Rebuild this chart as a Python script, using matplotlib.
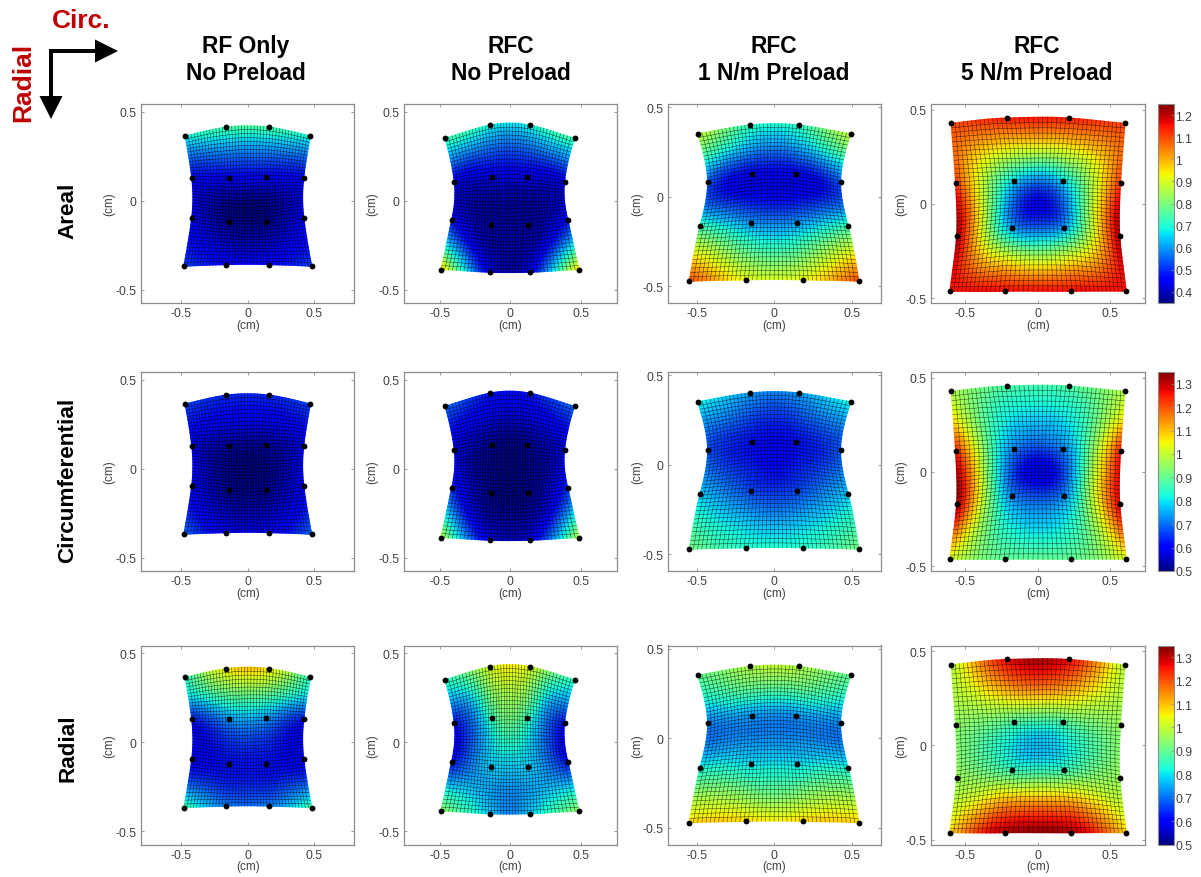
"""Regional strain maps for three stretch measures under four loading protocols."""
import matplotlib
matplotlib.use("Agg")
import matplotlib.pyplot as plt
import matplotlib.tri as mtri
import numpy as np

FIG_W, FIG_H = 1201, 878

COL_TITLES = ["RF Only\nNo Preload", "RFC\nNo Preload", "RFC\n1 N/m Preload", "RFC\n5 N/m Preload"]
ROW_TITLES = ["Areal", "Circumferential", "Radial"]

X_TICKS = [-0.5, 0, 0.5]
Y_TICKS = [-0.5, 0, 0.5]
CBAR_TICKS = [
    [0.4, 0.5, 0.6, 0.7, 0.8, 0.9, 1.0, 1.1, 1.2],
    [0.5, 0.6, 0.7, 0.8, 0.9, 1.0, 1.1, 1.2, 1.3],
    [0.5, 0.6, 0.7, 0.8, 0.9, 1.0, 1.1, 1.2, 1.3],
]
CLIMS = [(0.35, 1.25), (0.5, 1.35), (0.5, 1.35)]

# marker positions (cm), 4 x 4 from the top row down
MARKER_X = [
    [[-0.47, -0.16, 0.16, 0.47], [-0.42, -0.14, 0.14, 0.42], [-0.42, -0.14, 0.14, 0.42], [-0.48, -0.16, 0.16, 0.48]],
    [[-0.463, -0.147, 0.14, 0.456], [-0.397, -0.128, 0.118, 0.385], [-0.416, -0.135, 0.125, 0.409], [-0.494, -0.147, 0.137, 0.49]],
    [[-0.493, -0.157, 0.16, 0.493], [-0.429, -0.14, 0.138, 0.427], [-0.478, -0.149, 0.149, 0.476], [-0.547, -0.185, 0.183, 0.545]],
    [[-0.597, -0.211, 0.215, 0.601], [-0.567, -0.163, 0.172, 0.571], [-0.56, -0.177, 0.181, 0.566], [-0.606, -0.223, 0.227, 0.61]],
]
MARKER_Y = [
    [[0.365, 0.415, 0.415, 0.365], [0.13, 0.13, 0.135, 0.13], [-0.095, -0.12, -0.12, -0.095], [-0.37, -0.36, -0.36, -0.37]],
    [[0.352, 0.426, 0.426, 0.352], [0.106, 0.136, 0.136, 0.106], [-0.11, -0.138, -0.138, -0.11], [-0.388, -0.403, -0.403, -0.388]],
    [[0.352, 0.401, 0.401, 0.352], [0.084, 0.126, 0.126, 0.084], [-0.164, -0.144, -0.144, -0.164], [-0.472, -0.464, -0.464, -0.472]],
    [[0.428, 0.456, 0.456, 0.428], [0.111, 0.122, 0.122, 0.111], [-0.17, -0.129, -0.129, -0.17], [-0.463, -0.463, -0.463, -0.463]],
]

# stretch, 7 x 7 from the top left
AREAL_RF = [
    [.69, .73, .75, .76, .75, .73, .69],
    [.56, .57, .58, .58, .58, .57, .56],
    [.47, .46, .46, .46, .46, .46, .47],
    [.44, .40, .37, .36, .37, .40, .44],
    [.45, .40, .37, .36, .37, .40, .45],
    [.47, .44, .41, .40, .41, .44, .47],
    [.52, .49, .47, .46, .47, .49, .52],
]
AREAL_RFC = [
    [.74, .73, .69, .67, .69, .73, .74],
    [.58, .56, .55, .54, .55, .56, .58],
    [.45, .43, .44, .44, .44, .43, .45],
    [.42, .39, .38, .38, .38, .39, .42],
    [.48, .40, .38, .38, .38, .40, .48],
    [.66, .48, .39, .38, .39, .48, .66],
    [.98, .66, .44, .39, .44, .66, .98],
]
AREAL_1N = [
    [.88, .80, .72, .70, .72, .80, .88],
    [.72, .65, .60, .58, .60, .65, .72],
    [.55, .48, .46, .46, .46, .48, .55],
    [.56, .50, .47, .46, .47, .50, .56],
    [.73, .66, .60, .58, .60, .66, .73],
    [.92, .84, .76, .73, .76, .84, .92],
    [1.10, 1.00, .92, .90, .92, 1.00, 1.10],
]
AREAL_5N = [
    [1.10, 1.12, 1.14, 1.15, 1.14, 1.12, 1.10],
    [1.07, .96, .90, .88, .90, .96, 1.07],
    [1.12, .85, .66, .58, .66, .85, 1.12],
    [1.20, .85, .55, .46, .55, .85, 1.20],
    [1.22, .88, .62, .55, .62, .88, 1.22],
    [1.18, 1.00, .90, .85, .90, 1.00, 1.18],
    [1.15, 1.16, 1.16, 1.16, 1.16, 1.16, 1.15],
]
CIRC_RF = [
    [.66, .65, .64, .64, .64, .65, .66],
    [.62, .60, .59, .59, .59, .60, .62],
    [.59, .55, .53, .52, .53, .55, .59],
    [.60, .54, .51, .50, .51, .54, .60],
    [.60, .55, .52, .51, .52, .55, .60],
    [.63, .58, .55, .54, .55, .58, .63],
    [.70, .63, .59, .58, .59, .63, .70],
]
CIRC_RFC = [
    [.70, .66, .63, .62, .63, .66, .70],
    [.62, .59, .57, .56, .57, .59, .62],
    [.58, .54, .52, .51, .52, .54, .58],
    [.60, .53, .51, .50, .51, .53, .60],
    [.65, .55, .51, .50, .51, .55, .65],
    [.78, .60, .53, .52, .53, .60, .78],
    [1.00, .73, .58, .55, .58, .73, 1.00],
]
CIRC_1N = [
    [.82, .78, .74, .72, .74, .78, .82],
    [.72, .70, .67, .65, .67, .70, .72],
    [.68, .64, .62, .61, .62, .64, .68],
    [.72, .66, .63, .61, .63, .66, .72],
    [.78, .72, .67, .65, .67, .72, .78],
    [.85, .80, .76, .74, .76, .80, .85],
    [.92, .87, .84, .83, .84, .87, .92],
]
CIRC_5N = [
    [.98, .92, .88, .87, .88, .92, .98],
    [1.08, .90, .80, .78, .80, .90, 1.08],
    [1.25, .92, .72, .67, .72, .92, 1.25],
    [1.33, .95, .66, .58, .66, .95, 1.28],
    [1.33, .98, .73, .67, .73, .98, 1.28],
    [1.18, .96, .82, .78, .82, .96, 1.18],
    [1.02, .94, .90, .90, .90, .94, 1.02],
]
RADIAL_RF = [
    [.84, .97, 1.06, 1.10, 1.06, .97, .84],
    [.78, .84, .90, .92, .90, .84, .78],
    [.63, .68, .74, .76, .74, .68, .63],
    [.60, .62, .65, .66, .65, .62, .60],
    [.60, .61, .62, .62, .62, .61, .60],
    [.68, .66, .64, .64, .64, .66, .68],
    [.88, .78, .72, .70, .72, .78, .88],
]
RADIAL_RFC = [
    [.85, .92, 1.02, 1.06, 1.02, .92, .85],
    [.74, .80, .94, .98, .94, .80, .74],
    [.62, .72, .86, .92, .86, .72, .62],
    [.60, .70, .80, .84, .80, .70, .60],
    [.62, .72, .78, .78, .78, .72, .62],
    [.78, .77, .75, .73, .75, .77, .78],
    [.95, .86, .78, .72, .78, .86, .95],
]
RADIAL_1N = [
    [.90, .94, .98, 1.00, .98, .94, .90],
    [.82, .86, .88, .88, .88, .86, .82],
    [.72, .74, .74, .74, .74, .74, .72],
    [.72, .73, .73, .73, .73, .73, .72],
    [.82, .82, .80, .80, .80, .82, .82],
    [.95, .95, .92, .90, .92, .95, .95],
    [1.08, 1.09, 1.08, 1.06, 1.08, 1.09, 1.08],
]
RADIAL_5N = [
    [.98, 1.14, 1.27, 1.32, 1.27, 1.14, .98],
    [.98, 1.04, 1.10, 1.12, 1.10, 1.04, .98],
    [.95, .92, .88, .86, .88, .92, .95],
    [.94, .87, .80, .77, .80, .87, .94],
    [.96, .92, .86, .84, .86, .92, .96],
    [1.00, 1.06, 1.10, 1.10, 1.10, 1.06, 1.00],
    [1.08, 1.22, 1.32, 1.34, 1.32, 1.22, 1.08],
]
FIELDS = [
    [AREAL_RF, AREAL_RFC, AREAL_1N, AREAL_5N],
    [CIRC_RF, CIRC_RFC, CIRC_1N, CIRC_5N],
    [RADIAL_RF, RADIAL_RFC, RADIAL_1N, RADIAL_5N],
]

# layout, in pixels of the final picture
COL_LEFT = [141, 403.5, 667.5, 931]
COL_WIDTH = 213.5
ROW_TOP = [105, 373, 646.5]
ROW_HEIGHT = 199
X_LIMS = [0.8, 0.757, 0.687, 0.736]
Y_LIMS = [(-0.576, 0.545), (-0.576, 0.545), (-0.593, 0.518), (-0.525, 0.53)]
Y_LABEL_X = [109, 372, 637, 901]
TEXT_GRAY = "#404040"
FRAME_GRAY = "#8c8c8c"
RED = "#c00000"
N_CELLS = 40


def px_rect(left, top, width, height):
    return [left / FIG_W, 1 - (top + height) / FIG_H, width / FIG_W, height / FIG_H]


def grid_triangulation(n):
    u, v = np.meshgrid(np.linspace(0, 3, n), np.linspace(0, 3, n))
    return mtri.Triangulation(u.ravel(), v.ravel())


def style_axes(ax):
    for spine in ax.spines.values():
        spine.set_color(FRAME_GRAY)
        spine.set_linewidth(0.9)
    ax.tick_params(direction="in", length=2, width=0.6, color=FRAME_GRAY, top=True, right=True,
                   labelsize=8.7, labelcolor=TEXT_GRAY, pad=3)


def draw_panel(ax, markers_x, markers_y, field, clim):
    """Deformed mesh coloured by stretch, with the 16 tracked markers on top."""
    markers_x, markers_y = np.array(markers_x), np.array(markers_y)
    tri_geom = grid_triangulation(4)
    tri_field = grid_triangulation(7)
    uu, vv = np.meshgrid(np.linspace(0, 3, N_CELLS + 1), np.linspace(0, 3, N_CELLS + 1))
    mesh_x = np.asarray(mtri.CubicTriInterpolator(tri_geom, markers_x.ravel())(uu, vv))
    mesh_y = np.asarray(mtri.CubicTriInterpolator(tri_geom, markers_y.ravel())(uu, vv))
    mesh_c = np.asarray(mtri.CubicTriInterpolator(tri_field, np.array(field).ravel())(uu, vv))
    image = ax.pcolormesh(mesh_x, mesh_y, mesh_c, shading="gouraud", cmap="jet", vmin=clim[0], vmax=clim[1])
    # the outermost mesh lines do not show in the original
    ax.plot(mesh_x[:, 1:-1], mesh_y[:, 1:-1], color="black", lw=0.35, alpha=0.75)
    ax.plot(mesh_x.T[:, 1:-1], mesh_y.T[:, 1:-1], color="black", lw=0.35, alpha=0.75)
    ax.plot(markers_x.ravel(), markers_y.ravel(), "o", color="black", ms=4.2, mew=0)
    return image


plt.rcParams.update({
    "font.family": ["Liberation Sans", "DejaVu Sans"],
    "axes.unicode_minus": False,
})

fig = plt.figure(figsize=(FIG_W / 100, FIG_H / 100), dpi=100)

for r, top in enumerate(ROW_TOP):
    for c, left in enumerate(COL_LEFT):
        ax = fig.add_axes(px_rect(left, top, COL_WIDTH, ROW_HEIGHT))
        image = draw_panel(ax, MARKER_X[c], MARKER_Y[c], FIELDS[r][c], CLIMS[r])
        ax.set_xlim(-X_LIMS[c], X_LIMS[c])
        ax.set_ylim(*Y_LIMS[c])
        ax.set_xticks(X_TICKS, ["-0.5", "0", "0.5"])
        ax.set_yticks(Y_TICKS, ["-0.5", "0", "0.5"])
        ax.set_xlabel("(cm)", fontsize=8.5, color=TEXT_GRAY, va="center")
        ax.set_ylabel("(cm)", fontsize=8.5, color=TEXT_GRAY, va="center")
        ax.xaxis.set_label_coords(0.5, -22 / ROW_HEIGHT)
        ax.yaxis.set_label_coords((Y_LABEL_X[c] - left) / COL_WIDTH, 0.5)
        style_axes(ax)
    cax = fig.add_axes(px_rect(1157.5, top, 16, ROW_HEIGHT))
    bar = fig.colorbar(image, cax=cax, ticks=CBAR_TICKS[r], format="%g")
    bar.outline.set_edgecolor(FRAME_GRAY)
    bar.outline.set_linewidth(0.8)
    cax.tick_params(direction="in", length=2, width=0.5, color=FRAME_GRAY, labelsize=8.7,
                    labelcolor=TEXT_GRAY, pad=1.5)

overlay = fig.add_axes([0, 0, 1, 1], zorder=-1)
overlay.set_xlim(0, FIG_W)
overlay.set_ylim(FIG_H, 0)
overlay.axis("off")

for title, x in zip(COL_TITLES, [246, 511, 774, 1037]):
    overlay.text(x, 60, title, fontsize=16.4, fontweight="bold", ha="center", va="center", linespacing=1.22)
for label, y in zip(ROW_TITLES, [211, 480, 748]):
    overlay.text(68, y, label, fontsize=16.2, fontweight="bold", rotation=90, ha="center", va="center")

overlay.text(81, 21, "Circ.", fontsize=19, fontweight="bold", color=RED, ha="center", va="center")
overlay.text(23, 82, "Radial", fontsize=19, fontweight="bold", color=RED, rotation=90, ha="center", va="center")
overlay.arrow(49, 52, 69, 0, width=4, head_width=23, head_length=23, length_includes_head=True, color="black", lw=0)
overlay.arrow(51, 50, 0, 70, width=4, head_width=23, head_length=23, length_includes_head=True, color="black", lw=0)

fig.savefig("out.png", dpi=100)
